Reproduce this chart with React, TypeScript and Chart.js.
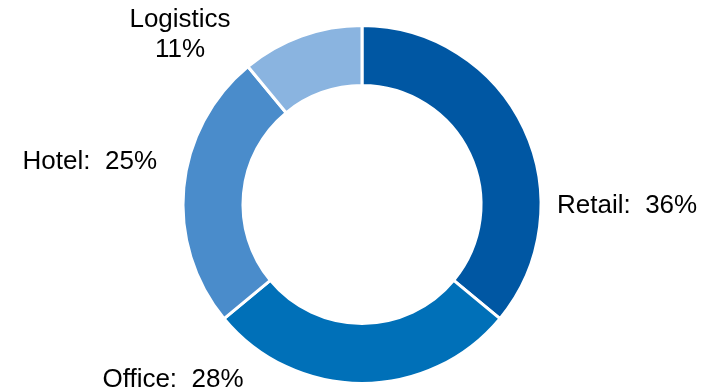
import React, { useEffect, useRef } from "react";
import { Chart, registerables } from "chart.js";

Chart.register(...registerables);

const categories = ["Retail", "Office", "Hotel", "Logistics"];
const shares = [36, 28, 25, 11];
const colors = ["#0057A3", "#0070B8", "#4A8CCB", "#8AB4E0"];

// label placement relative to chart centre (px): [dx, dy of first baseline, align, multiline]
const labelLayout: [number, number, CanvasTextAlign, boolean][] = [
  [195, 8.5, "left", false],
  [-189, 182.5, "center", false],
  [-205, -35.5, "right", false],
  [-182, -178, "center", true],
];

const labelPlugin = {
  id: "outerLabels",
  afterDraw(chart: any) {
    const meta = chart.getDatasetMeta(0);
    const ctx = chart.ctx;
    ctx.save();
    ctx.fillStyle = "#000000";
    ctx.font = '26px "Liberation Sans", Arial, sans-serif';
    ctx.textBaseline = "alphabetic";
    meta.data.forEach((arc: any, i: number) => {
      const [dx, dy, align, multi] = labelLayout[i];
      const x = arc.x + dx;
      const y = arc.y + dy;
      ctx.textAlign = align;
      if (multi) {
        ctx.fillText(categories[i], x, y);
        ctx.fillText(shares[i] + "%", x, y + 30);
      } else {
        ctx.fillText(categories[i] + ":  " + shares[i] + "%", x, y);
      }
    });
    ctx.restore();
  },
};

export default function App() {
  const ref = useRef<HTMLCanvasElement | null>(null);
  useEffect(() => {
    document.body.style.margin = "0";
    const chart = new Chart(ref.current as HTMLCanvasElement, {
      type: "doughnut",
      data: {
        labels: categories,
        datasets: [
          {
            data: shares,
            backgroundColor: colors,
            borderColor: "#ffffff",
            borderWidth: 3,
          },
        ],
      },
      options: {
        responsive: false,
        animation: false,
        cutout: "66.5%",
        layout: { padding: { top: 24, bottom: 7, left: 181.5, right: 172.5 } },
        plugins: {
          legend: { display: false },
          tooltip: { enabled: false },
        },
      },
      plugins: [labelPlugin],
    });
    return () => chart.destroy();
  }, []);
  return (
    <div style={{ width: 715, height: 392, background: "#ffffff" }}>
      <canvas ref={ref} width={715} height={392} />
    </div>
  );
}
